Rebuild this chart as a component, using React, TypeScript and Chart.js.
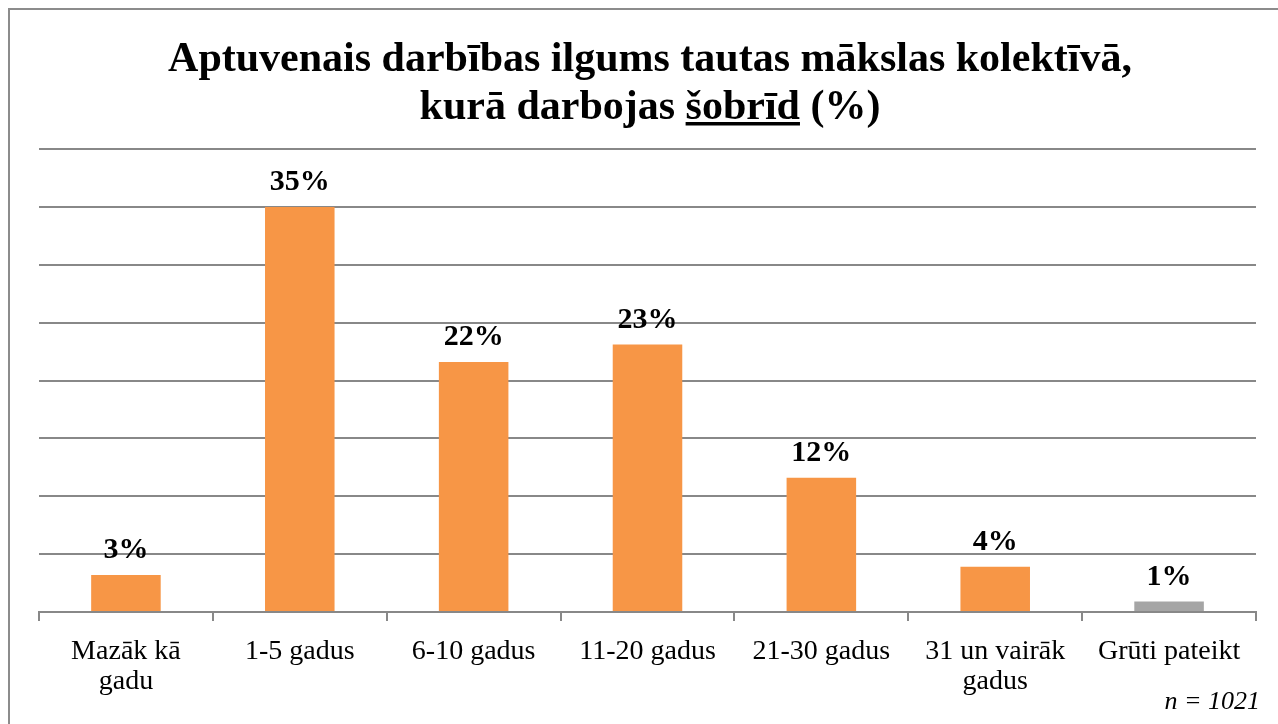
import React, { useEffect, useRef } from "react";
import { Chart, registerables } from "chart.js";

Chart.register(...registerables);

const categories: string[][] = [
  ["Mazāk kā", "gadu"],
  ["1-5 gadus"],
  ["6-10 gadus"],
  ["11-20 gadus"],
  ["21-30 gadus"],
  ["31 un vairāk", "gadus"],
  ["Grūti pateikt"],
];
const values: number[] = [3.2, 35.0, 21.6, 23.1, 11.6, 3.9, 0.9];
const valueLabels: string[] = ["3%", "35%", "22%", "23%", "12%", "4%", "1%"];
const barColors: string[] = ["#F79646", "#F79646", "#F79646", "#F79646", "#F79646", "#F79646", "#A5A5A5"];
const titleLine1 = "Aptuvenais darbības ilgums tautas mākslas kolektīvā,";
const titleLine2Parts = ["kurā darbojas ", "šobrīd", " (%)"];
const footnote = "n = 1021";

const SERIF = "'Liberation Serif', 'Times New Roman', serif";

const decorPlugin = {
  id: "decor",
  afterDraw(chart: any) {
    const ctx = chart.ctx as CanvasRenderingContext2D;
    ctx.save();
    ctx.fillStyle = "#000";
    ctx.textBaseline = "alphabetic";
    ctx.font = `bold 42px ${SERIF}`;
    ctx.textAlign = "center";
    const cx = 650;
    ctx.fillText(titleLine1, cx, 71);
    const widths = titleLine2Parts.map((p) => ctx.measureText(p).width);
    const total = widths.reduce((a, b) => a + b, 0);
    let x = cx - total / 2;
    ctx.textAlign = "left";
    const y2 = 119;
    titleLine2Parts.forEach((p, i) => {
      ctx.fillText(p, x, y2);
      if (i === 1) {
        ctx.fillRect(x, y2 + 3, widths[i], 3.5);
      }
      x += widths[i];
    });
    const meta = chart.getDatasetMeta(0);
    ctx.font = `bold 30px ${SERIF}`;
    ctx.textAlign = "center";
    meta.data.forEach((bar: any, i: number) => {
      ctx.fillText(valueLabels[i], bar.x, bar.y - 17);
    });
    ctx.font = `italic 26px ${SERIF}`;
    ctx.textAlign = "right";
    ctx.fillText(footnote, 1260, 709);
    ctx.restore();
  },
};

export default function App() {
  const ref = useRef<HTMLCanvasElement | null>(null);
  useEffect(() => {
    if (!ref.current) return;
    const chart = new Chart(ref.current, {
      type: "bar",
      data: {
        labels: categories,
        datasets: [
          {
            data: values,
            backgroundColor: barColors,
            categoryPercentage: 1,
            barPercentage: 0.4,
          },
        ],
      },
      options: {
        animation: false,
        responsive: false,
        maintainAspectRatio: false,
        layout: { padding: { left: 39, right: 22, top: 149, bottom: 0 } },
        plugins: {
          legend: { display: false },
          title: { display: false },
          tooltip: { enabled: false },
        },
        scales: {
          x: {
            grid: {
              display: true,
              drawOnChartArea: false,
              drawTicks: true,
              tickLength: 9,
              color: "#888888",
              lineWidth: 2,
              offset: true,
            },
            border: { display: true, color: "#888888", width: 2 },
            ticks: {
              color: "#000",
              font: { family: SERIF, size: 28, lineHeight: 1.07 },
              padding: 16,
              maxRotation: 0,
              autoSkip: false,
            },
            afterFit: (scale: any) => {
              scale.height = 724 - 612;
            },
          },
          y: {
            min: 0,
            max: 40,
            ticks: { display: false, stepSize: 5 },
            grid: { color: "#888888", lineWidth: 2, drawTicks: false },
            border: { display: false },
            afterFit: (scale: any) => {
              scale.width = 0;
            },
          },
        },
      },
      plugins: [decorPlugin],
    });
    return () => chart.destroy();
  }, []);
  return (
    <div>
      <div
        style={{
          position: "absolute",
          left: 8,
          top: 8,
          width: 1290,
          height: 730,
          border: "2px solid #8c8c8c",
          boxSizing: "border-box",
        }}
      />
      <canvas
        ref={ref}
        width={1278}
        height={724}
        style={{ position: "absolute", left: 0, top: 0, width: 1278, height: 724 }}
      />
    </div>
  );
}
